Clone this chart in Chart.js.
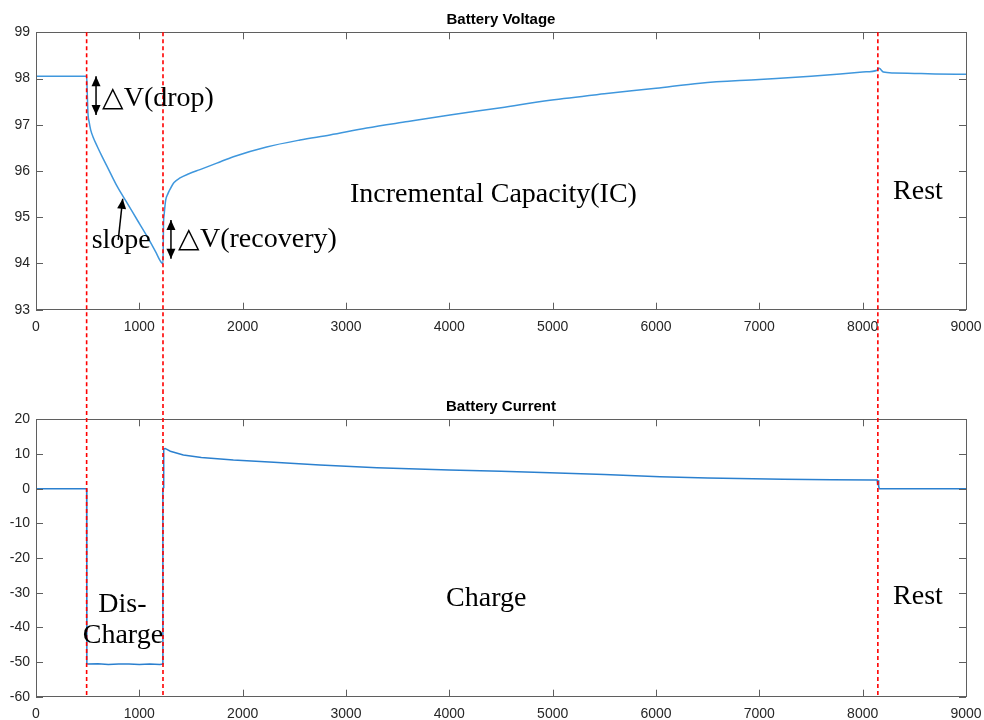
<!DOCTYPE html>
<html>
<head>
<meta charset="utf-8">
<script src="https://cdn.jsdelivr.net/npm/chart.js@4.4.1/dist/chart.umd.min.js"></script>
<style>
  html, body { margin: 0; padding: 0; background: #ffffff; }
  #wrap { position: relative; width: 984px; height: 720px; overflow: hidden; }
  canvas { position: absolute; left: 0; }
  #c1 { top: 0; }
  #c2 { top: 390px; }
</style>
</head>
<body>
<div id="wrap">
  <canvas id="c1" width="984" height="390"></canvas>
  <canvas id="c2" width="984" height="330"></canvas>
</div>
<script>
// ---------- data ----------
const timeV = [0, 490, 495, 503, 515, 529, 555, 593, 640, 690, 787, 884, 980, 1077, 1158, 1213, 1229,
  1234, 1240, 1255, 1275, 1294, 1336, 1394, 1480, 1587, 1750, 1910, 2232, 2555, 2845, 3200, 3600, 4006,
  4500, 4974, 5500, 6000, 6426, 7000, 7500, 8000, 8140, 8160, 8200, 8300, 8500, 8700, 9000];
const voltage = [98.05, 98.05, 97.75, 97.25, 97.05, 96.89, 96.72, 96.53, 96.31, 96.09, 95.66, 95.30, 94.94, 94.58, 94.25, 94.02, 94.0,
  94.85, 95.05, 95.37, 95.5, 95.59, 95.75, 95.85, 95.94, 96.03, 96.17, 96.31, 96.52, 96.67, 96.78, 96.93, 97.07, 97.21,
  97.37, 97.53, 97.67, 97.79, 97.9, 97.98, 98.05, 98.14, 98.18, 98.22, 98.14, 98.12, 98.11, 98.10, 98.09];

const timeI = [0, 490, 492, 500, 600, 700, 800, 900, 1000, 1100, 1200, 1225, 1228, 1232, 1236, 1250, 1300, 1426,
  1600, 1910, 2300, 2748, 3300, 4000, 4500, 4974, 5500, 6039, 6500, 7232, 7700, 8103, 8140, 8145, 8150, 8155, 8160, 9000];
const current = [0, 0, -50.5, -50.6, -50.5, -50.7, -50.6, -50.6, -50.7, -50.6, -50.7, -50.6, 0, 0.3, 11.5, 11.6, 10.8, 9.7,
  9.0, 8.25, 7.6, 6.8, 6.0, 5.36, 5.0, 4.6, 4.1, 3.4, 3.1, 2.7, 2.6, 2.5, 2.5, 1.0, 2.4, 0.8, 0, 0];

const xTicks = [0, 1000, 2000, 3000, 4000, 5000, 6000, 7000, 8000, 9000];
const vTicks = [93, 94, 95, 96, 97, 98, 99];
const iTicks = [-60, -50, -40, -30, -20, -10, 0, 10, 20];

const phaseLines = [490, 1229, 8147];

const titleV = 'Battery Voltage';
const titleI = 'Battery Current';

const labelsV = [
  { text: '\u25B3V(drop)', x: 636, y: 97.41 },
  { text: '\u25B3V(recovery)', x: 1374, y: 94.36 },
  { text: 'slope', x: 539, y: 94.33 },
  { text: 'Incremental Capacity(IC)', x: 3039, y: 95.33 },
  { text: 'Rest', x: 8294, y: 95.39 }
];
const arrowsV = [
  { x1: 581, y1: 98.05, x2: 581, y2: 97.21, both: true },
  { x1: 1306, y1: 94.94, x2: 1306, y2: 94.10, both: true },
  { x1: 796, y1: 94.51, x2: 839, y2: 95.40, both: false }
];
const labelsI = [
  { text: 'Dis-', x: 603, y: -35.5 },
  { text: 'Charge', x: 452, y: -44.4 },
  { text: 'Charge', x: 3968, y: -33.8 },
  { text: 'Rest', x: 8294, y: -33.3 }
];

// ---------- helpers ----------
const AXIS_COLOR = '#5f5f5f';
const TICK_FONT = { family: '"Liberation Sans", Arial, sans-serif', size: 14 };
const TEXT_FONT = '28px "Liberation Serif", "Times New Roman", serif';

function toPoints(xs, ys) { return xs.map((x, i) => ({ x: x, y: ys[i] })); }

function drawArrowHead(ctx, fx, fy, tx, ty) {
  const ang = Math.atan2(ty - fy, tx - fx);
  const len = 10, half = 4.5;
  ctx.beginPath();
  ctx.moveTo(tx, ty);
  ctx.lineTo(tx - len * Math.cos(ang) + half * Math.sin(ang), ty - len * Math.sin(ang) - half * Math.cos(ang));
  ctx.lineTo(tx - len * Math.cos(ang) - half * Math.sin(ang), ty - len * Math.sin(ang) + half * Math.cos(ang));
  ctx.closePath();
  ctx.fill();
}

function makeDecor(opts) {
  return {
    id: 'decor',
    afterDatasetsDraw(chart) {
      const ctx = chart.ctx;
      const a = chart.chartArea;
      const xs = chart.scales.x, ys = chart.scales.y;
      ctx.save();
      // box
      ctx.strokeStyle = AXIS_COLOR;
      ctx.lineWidth = 1;
      ctx.strokeRect(Math.round(a.left) + 0.5, Math.round(a.top) + 0.5,
        Math.round(a.right - a.left), Math.round(a.bottom - a.top));
      // inward ticks
      const tl = 7;
      ctx.beginPath();
      xs.ticks.forEach(t => {
        const px = Math.round(xs.getPixelForValue(t.value)) + 0.5;
        ctx.moveTo(px, a.bottom); ctx.lineTo(px, a.bottom - tl);
        ctx.moveTo(px, a.top); ctx.lineTo(px, a.top + tl);
      });
      ys.ticks.forEach(t => {
        const py = Math.round(ys.getPixelForValue(t.value)) + 0.5;
        ctx.moveTo(a.left, py); ctx.lineTo(a.left + tl, py);
        ctx.moveTo(a.right, py); ctx.lineTo(a.right - tl, py);
      });
      ctx.stroke();
      // phase lines
      ctx.strokeStyle = '#ff0000';
      ctx.lineWidth = 1.6;
      ctx.setLineDash([4, 3]);
      phaseLines.forEach(v => {
        const px = xs.getPixelForValue(v);
        ctx.beginPath();
        ctx.moveTo(px, opts.lineTop(chart));
        ctx.lineTo(px, opts.lineBottom(chart));
        ctx.stroke();
      });
      ctx.setLineDash([]);
      // title
      ctx.fillStyle = '#000000';
      ctx.font = 'bold 15px "Liberation Sans", Arial, sans-serif';
      ctx.textAlign = 'center';
      ctx.textBaseline = 'middle';
      ctx.fillText(opts.title, (a.left + a.right) / 2, a.top - 12);
      // annotation texts
      ctx.font = TEXT_FONT;
      ctx.textAlign = 'left';
      ctx.textBaseline = 'alphabetic';
      opts.labels.forEach(l => {
        ctx.fillText(l.text, xs.getPixelForValue(l.x), ys.getPixelForValue(l.y));
      });
      // arrows
      ctx.strokeStyle = '#000000';
      ctx.lineWidth = 1.5;
      (opts.arrows || []).forEach(ar => {
        const x1 = xs.getPixelForValue(ar.x1), y1 = ys.getPixelForValue(ar.y1);
        const x2 = xs.getPixelForValue(ar.x2), y2 = ys.getPixelForValue(ar.y2);
        ctx.beginPath();
        ctx.moveTo(x1, y1); ctx.lineTo(x2, y2);
        ctx.stroke();
        if (ar.both) {
          drawArrowHead(ctx, x2, y2, x1, y1);
          drawArrowHead(ctx, x1, y1, x2, y2);
        } else {
          drawArrowHead(ctx, x1, y1, x2, y2);
        }
      });
      ctx.restore();
    }
  };
}

function makeChart(canvasId, cfg) {
  return new Chart(document.getElementById(canvasId), {
    type: 'line',
    data: {
      datasets: [{
        data: toPoints(cfg.xs, cfg.ys),
        borderColor: cfg.color,
        borderWidth: 1.5,
        pointRadius: 0,
        cubicInterpolationMode: cfg.smooth ? 'monotone' : 'default',
        tension: 0,
        fill: false
      }]
    },
    options: {
      responsive: false,
      animation: false,
      devicePixelRatio: 1,
      layout: { padding: { top: cfg.padTop, left: 0, right: 18, bottom: 0 } },
      plugins: { legend: { display: false }, tooltip: { enabled: false }, title: { display: false } },
      scales: {
        x: {
          type: 'linear',
          min: 0, max: 9000,
          afterBuildTicks: s => { s.ticks = xTicks.map(v => ({ value: v })); },
          afterFit: s => { s.height = cfg.xHeight; s.paddingLeft = 0; s.paddingRight = 0; },
          grid: { display: false, drawTicks: false },
          border: { display: false },
          ticks: { font: TICK_FONT, color: '#262626', padding: 9, maxRotation: 0, autoSkip: false,
                   callback: v => String(v) }
        },
        y: {
          type: 'linear',
          min: cfg.yTicks[0], max: cfg.yTicks[cfg.yTicks.length - 1],
          afterBuildTicks: s => { s.ticks = cfg.yTicks.map(v => ({ value: v })); },
          afterFit: s => { s.width = 36; s.paddingTop = 0; s.paddingBottom = 0; },
          grid: { display: false, drawTicks: false },
          border: { display: false },
          ticks: { font: TICK_FONT, color: '#262626', padding: 6, autoSkip: false,
                   callback: v => String(v) }
        }
      }
    },
    plugins: [makeDecor(cfg.decor)]
  });
}

makeChart('c1', {
  xs: timeV, ys: voltage, color: '#3f97dd', yTicks: vTicks, smooth: true,
  padTop: 32.3, xHeight: 390 - 309.7,
  decor: {
    title: titleV, labels: labelsV, arrows: arrowsV,
    lineTop: ch => ch.chartArea.top, lineBottom: ch => 390
  }
});

makeChart('c2', {
  xs: timeI, ys: current, color: '#2b80cf', yTicks: iTicks, smooth: false,
  padTop: 29.3, xHeight: 330 - 306.7,
  decor: {
    title: titleI, labels: labelsI, arrows: [],
    lineTop: ch => 0, lineBottom: ch => ch.chartArea.bottom
  }
});
</script>
</body>
</html>
